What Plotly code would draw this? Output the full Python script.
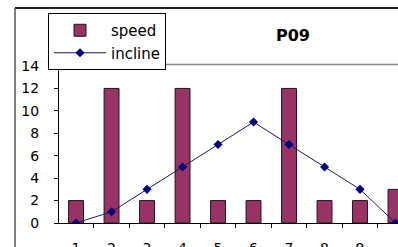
import plotly.graph_objects as go

categories = [1, 2, 3, 4, 5, 6, 7, 8, 9, 10]
speed = [2, 12, 2, 12, 2, 2, 12, 2, 2, 3]
incline = [0, 1, 3, 5, 7, 9, 7, 5, 3, 0]
y_ticks = [0, 2, 4, 6, 8, 10, 12, 14]
x_labels = [str(c) for c in categories]
boundaries = [c - 0.5 for c in categories] + [categories[-1] + 0.5]

W, H = 398, 247
L, R, T, B = 59, 0, 66, H - 223
pw, ph = W - L - R, H - T - B

def px(x):  # window pixel -> paper
    return (x - L) / pw

def py(y):
    return (H - B - y) / ph

FONT = "DejaVu Sans, Verdana, sans-serif"

fig = go.Figure()
fig.add_trace(go.Bar(
    x=categories, y=speed, name="speed", width=0.42,
    marker=dict(color="#993366", line=dict(color="#1a1a1a", width=1)),
))
fig.add_trace(go.Scatter(
    x=categories, y=incline, name="incline", mode="lines+markers",
    line=dict(color="#1c1c5c", width=1),
    marker=dict(symbol="diamond", size=7, color="#000080"),
))

fig.update_layout(
    width=W, height=H,
    margin=dict(l=L, r=R, t=T, b=B, pad=0, autoexpand=False),
    paper_bgcolor="white", plot_bgcolor="white",
    font=dict(family=FONT, size=14, color="black"),
    showlegend=True,
    legend=dict(
        x=px(48), y=py(13), xanchor="left", yanchor="top",
        bordercolor="black", borderwidth=1, bgcolor="white",
        font=dict(size=15, family=FONT), tracegroupgap=0,
        itemwidth=52,
    ),
    xaxis=dict(
        range=[0.52, 10.07], tickmode="array", tickvals=categories, ticktext=x_labels,
        ticks="", showgrid=False, zeroline=False,
        showline=True, linecolor="black", linewidth=1,
        ticklabelstandoff=12,
        tickfont=dict(size=14),
        minor=dict(tickmode="array", tickvals=boundaries, ticks="outside", ticklen=4,
                   tickcolor="black", tickwidth=1, showgrid=False),
    ),
    yaxis=dict(
        range=[0, 14], tickmode="array", tickvals=y_ticks,
        ticks="outside", ticklen=4, tickcolor="black",
        showgrid=False, zeroline=False,
        showline=True, linecolor="black", linewidth=1,
        ticklabelstandoff=12,
        tickfont=dict(size=14),
    ),
    xaxis2=dict(
        overlaying="x", matches="x", tickmode="array", tickvals=boundaries,
        ticks="inside", ticklen=4, tickcolor="black", showticklabels=False,
        showgrid=False, zeroline=False, showline=False,
    ),
    yaxis2=dict(
        overlaying="y", matches="y", tickmode="array", tickvals=y_ticks,
        ticks="inside", ticklen=4, tickcolor="black", showticklabels=False,
        showgrid=False, zeroline=False, showline=False,
    ),
    shapes=[
        dict(type="line", xref="paper", yref="paper", x0=px(15), x1=px(410), y0=py(8), y1=py(8),
             line=dict(color="#222", width=2)),
        dict(type="line", xref="paper", yref="paper", x0=px(15), x1=px(15), y0=py(8), y1=py(260),
             line=dict(color="#555", width=1.5)),
        dict(type="line", xref="paper", yref="paper", x0=px(53), x1=px(410), y0=py(64.5), y1=py(64.5),
             line=dict(color="#888", width=1.5)),
    ],
    annotations=[
        dict(text="<b>P09</b>", xref="paper", yref="paper", x=px(293), y=py(35),
             showarrow=False, font=dict(size=16, family=FONT), xanchor="center", yanchor="middle"),
    ],
)

fig.write_html(
    "out.html",
    config={"displayModeBar": False},
    post_script="document.body.style.margin='0';document.body.style.overflow='hidden';",
)
